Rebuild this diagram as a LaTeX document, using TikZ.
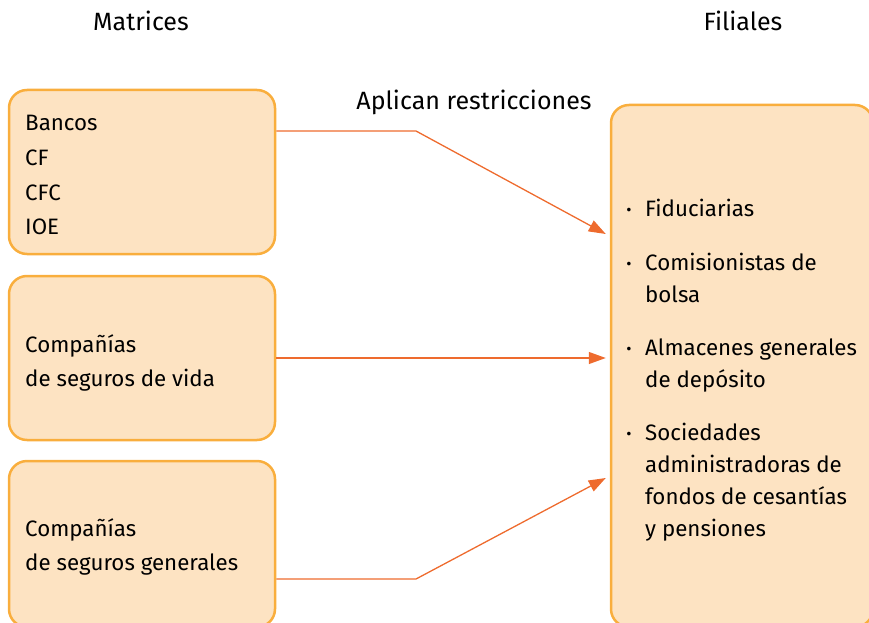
\documentclass[tikz,border=0pt]{standalone}
\usepackage{fontspec}
\setmainfont{Fira Sans}
\usetikzlibrary{arrows.meta}
\definecolor{boxfill}{HTML}{FDE3C2}
\definecolor{boxdraw}{HTML}{F9AE3D}
\definecolor{arrowc}{HTML}{EE6B2E}
\tikzset{
  mbox/.style={draw=boxdraw, fill=boxfill, line width=2.5pt, rounded corners=18pt, inner sep=0pt},
  txt/.style={anchor=base west, inner sep=0pt, font=\fontsize{22.3}{34}\selectfont},
  bul/.style={anchor=center, inner sep=0pt, font=\fontsize{16}{34}\selectfont},
  hdr/.style={anchor=base, inner sep=0pt, font=\fontsize{25}{34}\selectfont},
  conn/.style={draw=arrowc, line width=1.3pt, -{Triangle[length=17pt,width=12pt]}},
}
\begin{document}
\begin{tikzpicture}[x=1pt,y=-1pt]
\useasboundingbox (0,0) rectangle (869,623);
\clip (0,0) rectangle (869,623);
% boxes
\node[mbox, minimum width=266pt, minimum height=164pt] (b1) at (142,172) {};
\node[mbox, minimum width=266pt, minimum height=164pt] (b2) at (142,358) {};
\node[mbox, minimum width=266pt, minimum height=166pt] (b3) at (142,544) {};
\node[mbox, minimum width=262pt, minimum height=522pt] (r) at (742,366) {};
% headers
\node[hdr] (h1) at (141,31) {Matrices};
\node[hdr] (h2) at (743,31) {Filiales};
\node[hdr] (lab) at (474,110) {Aplican restricciones};
% left texts
\node[txt] (t1) at (25,131) {Bancos};
\node[txt] (t2) at (25,165) {CF};
\node[txt] (t3) at (25,200) {CFC};
\node[txt] (t4) at (25,234) {IOE};
\node[txt] (t5) at (25,352) {Compañías};
\node[txt] (t6) at (25,386) {de seguros de vida};
\node[txt] (t7) at (25,536) {Compañías};
\node[txt] (t8) at (25,570) {de seguros generales};
% right texts
\node[bul] (d1) at (629,212) {•};
\node[txt] (f1) at (645,216) {Fiduciarias};
\node[bul] (d2) at (629,266) {•};
\node[txt] (f2) at (645,270) {Comisionistas de};
\node[txt] (f2b) at (645,302) {bolsa};
\node[bul] (d3) at (629,351) {•};
\node[txt] (f3) at (645,355) {Almacenes generales};
\node[txt] (f3b) at (645,387) {de depósito};
\node[bul] (d4) at (629,436) {•};
\node[txt] (f4) at (645,440) {Sociedades};
\node[txt] (f4b) at (645,472) {administradoras de};
\node[txt] (f4c) at (645,504) {fondos de cesantías};
\node[txt] (f4d) at (645,536) {y pensiones};
% connectors
\coordinate (s1) at (b1.east |- 0,131);
\coordinate (k1) at (416,131);
\coordinate (e1) at (r.west |- 0,234);
\coordinate (e2) at (r.west |- 0,358);
\coordinate (s3) at (b3.east |- 0,579);
\coordinate (k3) at (416,579);
\coordinate (e3) at (r.west |- 0,478);
\draw[conn] (s1) -- (k1) -- ([xshift=-4pt]e1);
\draw[conn] (b2.east) -- ([xshift=-4pt]e2);
\draw[conn] (s3) -- (k3) -- ([xshift=-4pt]e3);
\end{tikzpicture}
\end{document}
